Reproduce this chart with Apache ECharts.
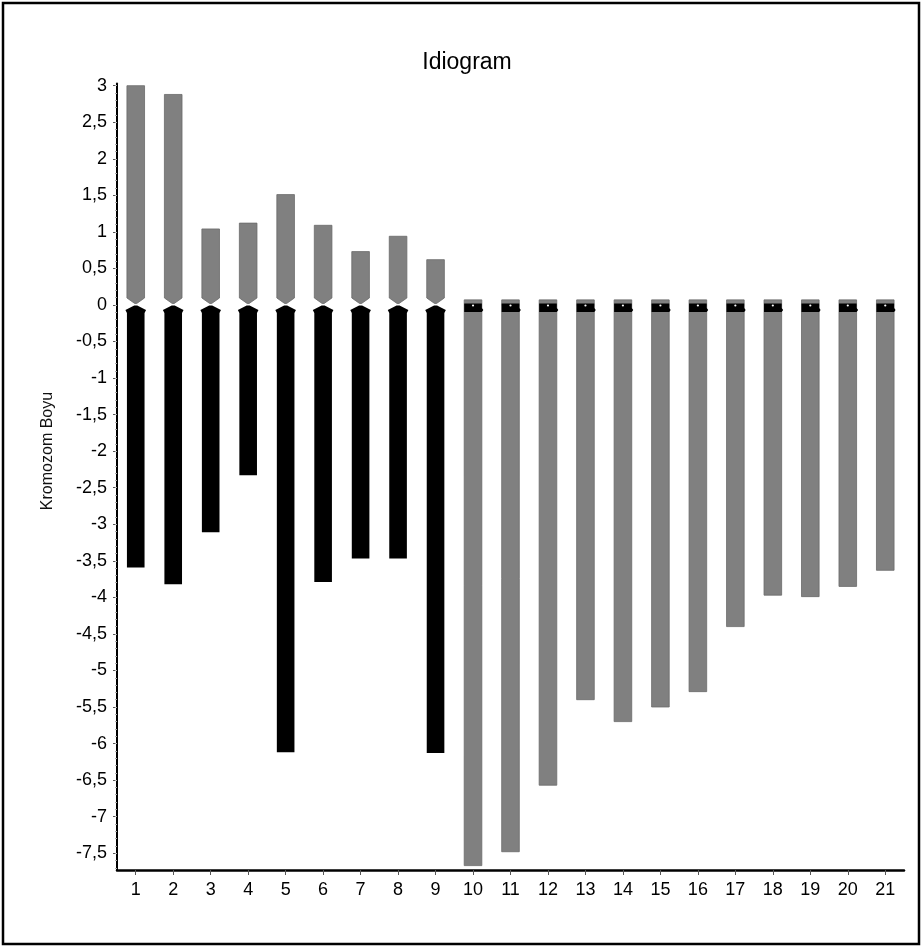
<!DOCTYPE html>
<html>
<head>
<meta charset="utf-8">
<script src="https://cdn.jsdelivr.net/npm/echarts@6/dist/echarts.min.js"></script>
<style>
  html, body { margin: 0; padding: 0; background: #fff; }
  #chart { width: 923px; height: 949px; }
</style>
</head>
<body>
<div id="chart"></div>
<script>
// Chromosome numbers along the x axis
const chromosomes = ['1','2','3','4','5','6','7','8','9','10','11','12','13','14','15','16','17','18','19','20','21'];
// Short arm (p) lengths, drawn above zero
const pArm = [3.0, 2.88, 1.04, 1.12, 1.51, 1.09, 0.73, 0.94, 0.62,
              0.07, 0.07, 0.07, 0.07, 0.07, 0.07, 0.07, 0.07, 0.07, 0.07, 0.07, 0.07];
// Long arm (q) lengths, drawn below zero
const qArm = [-3.59, -3.82, -3.11, -2.33, -6.12, -3.79, -3.47, -3.47, -6.13,
              -7.67, -7.48, -6.57, -5.40, -5.70, -5.50, -5.29, -4.40, -3.97, -3.99, -3.85, -3.63];
// Labelled ticks on the value axis
const yTicks = [3, 2.5, 2, 1.5, 1, 0.5, 0, -0.5, -1, -1.5, -2, -2.5, -3, -3.5, -4, -4.5,
                -5, -5.5, -6, -6.5, -7, -7.5];

const GRAY = '#808080';
const GRAY_EDGE = '#6a6a6a';
const DARK = '#000000';
const FONT = '"Liberation Sans Narrow", "Arial Narrow", "Liberation Sans", Arial, sans-serif';

// fine minor tick marks every 0.1 along the value axis
const minorTicks = [];
for (let k = -77; k <= 30; k++) minorTicks.push(k / 10);

function renderChromosome(params, api) {
  const idx = api.value(0);
  const p = api.value(1);
  const q = api.value(2);
  const c0 = api.coord([idx, 0]);
  const cp = api.coord([idx, p]);
  const cq = api.coord([idx, q]);
  const w = api.size([1, 0])[0] * 0.47;
  const cx = c0[0], y0 = c0[1];
  const x0 = cx - w / 2, x1 = cx + w / 2;
  const children = [];

  if (p >= 0.2) {
    // short arm narrowing to the centromere
    children.push({
      type: 'polygon',
      shape: { points: [[x0, cp[1]], [x1, cp[1]], [x1, y0 - 7], [cx + 1, y0 - 1.5], [cx - 1, y0 - 1.5], [x0, y0 - 7]] },
      style: { fill: GRAY, stroke: GRAY_EDGE, lineWidth: 0.8 }
    });
    // long arm widening from the centromere
    children.push({
      type: 'polygon',
      shape: { points: [[cx - 1.5, y0 + 0.5], [cx + 1.5, y0 + 0.5], [x1 + 1.5, y0 + 5], [x1, y0 + 8], [x1, cq[1]], [x0, cq[1]], [x0, y0 + 8], [x0 - 1.5, y0 + 5]] },
      style: { fill: DARK }
    });
  } else {
    // acrocentric: tiny short arm, dark centromere band, gray long arm
    children.push({
      type: 'rect',
      shape: { x: x0, y: cp[1], width: w, height: y0 - cp[1] },
      style: { fill: GRAY, stroke: GRAY_EDGE, lineWidth: 0.8 }
    });
    children.push({
      type: 'rect',
      shape: { x: x0, y: y0, width: w, height: cq[1] - y0 },
      style: { fill: GRAY, stroke: GRAY_EDGE, lineWidth: 0.8 }
    });
    children.push({
      type: 'polygon',
      shape: { points: [[x0, y0 - 1.5], [x1, y0 - 1.5], [x1, y0 + 3], [x1 + 1.5, y0 + 5], [x1, y0 + 7], [x0, y0 + 7]] },
      style: { fill: DARK }
    });
    children.push({
      type: 'circle',
      shape: { cx: cx, cy: y0 + 0.5, r: 1.1 },
      style: { fill: '#ffffff' }
    });
  }
  return { type: 'group', children: children };
}

const chart = echarts.init(document.getElementById('chart'), null, { renderer: 'canvas' });

chart.setOption({
  backgroundColor: '#ffffff',
  animation: false,
  title: {
    text: 'Idiogram',
    left: 462,
    top: 46,
    textAlign: 'center',
    textStyle: { fontFamily: FONT, fontSize: 23, fontWeight: 'normal', color: '#000' }
  },
  grid: { left: 117, right: 19, top: 83.5, bottom: 79 },
  xAxis: {
    type: 'category',
    data: chromosomes,
    boundaryGap: true,
    axisLine: { show: true, onZero: false, lineStyle: { color: '#000', width: 2.5 } },
    axisTick: { show: true, alignWithLabel: true, length: 5, inside: false, lineStyle: { color: '#555', width: 1 } },
    axisLabel: { fontFamily: FONT, fontSize: 18, color: '#000', margin: 11 },
    splitLine: { show: false }
  },
  yAxis: [
    {
      type: 'value',
      min: -7.73,
      max: 3.03,
      axisLine: { show: true, lineStyle: { color: '#000', width: 2 } },
      axisTick: { show: true, customValues: yTicks, length: 4, lineStyle: { color: '#555', width: 1 } },
      axisLabel: {
        customValues: yTicks,
        fontFamily: FONT, fontSize: 18, color: '#000', margin: 10,
        formatter: v => String(v).replace('.', ',')
      },
      splitLine: { show: false }
    },
    {
      type: 'value',
      position: 'left',
      min: -7.73,
      max: 3.03,
      axisLine: { show: false },
      axisTick: { show: true, customValues: minorTicks, length: 2, lineStyle: { color: '#aaa', width: 1 } },
      axisLabel: { show: false },
      splitLine: { show: false }
    }
  ],
  series: [{
    type: 'custom',
    renderItem: renderChromosome,
    encode: { x: 0, y: [1, 2] },
    data: chromosomes.map((c, i) => [i, pArm[i], qArm[i]])
  }],
  graphic: [
    {
      type: 'rect',
      shape: { x: 3, y: 3, width: 916, height: 941 },
      style: { fill: null, stroke: '#000', lineWidth: 2.5 },
      silent: true
    },
    {
      type: 'text',
      x: 48,
      y: 451,
      rotation: Math.PI / 2,
      style: {
        text: 'Kromozom Boyu',
        fontFamily: FONT,
        fontSize: 16,
        fill: '#111',
        align: 'center',
        verticalAlign: 'middle'
      }
    }
  ]
});
</script>
</body>
</html>
